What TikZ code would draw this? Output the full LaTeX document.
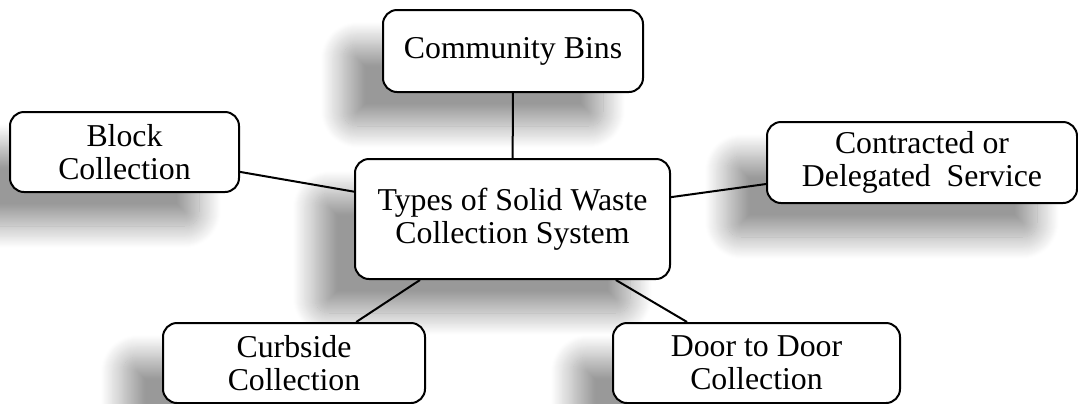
\documentclass[tikz,border=0pt]{standalone}
\usepackage{fontspec}
\setmainfont{Liberation Serif}
\usetikzlibrary{shadows.blur}
\tikzset{
	topic/.style={draw, line width=1pt, rounded corners=7pt, fill=white, align=center, inner sep=0pt,
		font=\fontsize{15.9}{16.4}\selectfont,
		blur shadow={shadow xshift=-20pt, shadow yshift=-17pt, shadow blur radius=11pt, shadow blur steps=24, shadow opacity=40}},
}

\begin{document}
\begin{tikzpicture}[x=0.5pt, y=-0.5pt]
			\useasboundingbox (0,0) rectangle (1078,403);
			\node[topic, minimum width=130pt, minimum height=41pt] (bins) at (513,51) {Community Bins};
			\node[topic, minimum width=114.5pt, minimum height=40pt] (block) at (124.5,152) {Block\\Collection};
			\node[topic, minimum width=155pt, minimum height=40.5pt] (contract) at (922,162.5) {Contracted or\\Delegated~ Service};
			\node[topic, minimum width=157.5pt, minimum height=60pt] (types) at (512.5,219) {Types of Solid Waste\\Collection System};
			\node[topic, minimum width=131pt, minimum height=40pt] (curb) at (294,363) {Curbside\\Collection};
			\node[topic, minimum width=143.5pt, minimum height=40pt] (door) at (756.5,363) {Door to Door\\Collection};
			\path[line width=1pt]
			(types) edge (bins)
					edge (block)
					edge (contract)
					edge (curb)
					edge (door);
		\end{tikzpicture}
\end{document}
